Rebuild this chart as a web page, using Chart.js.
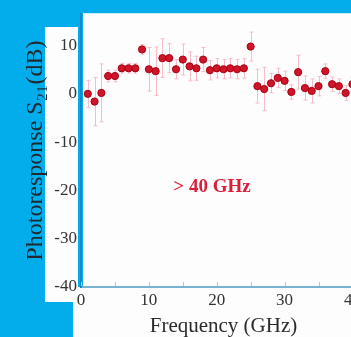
<!DOCTYPE html>
<html>
<head>
<meta charset="utf-8">
<script src="https://cdn.jsdelivr.net/npm/chart.js@4.4.1/dist/chart.umd.min.js"></script>
<style>
  html, body { margin: 0; padding: 0; overflow: hidden; background: #03adeb; }
  canvas { display: block; }
</style>
</head>
<body>
<canvas id="s21Chart" width="372" height="337"></canvas>
<script>
// measured photoresponse, one point per GHz
var freqGHz = [1, 2, 3, 4, 5, 6, 7, 8, 9, 10,
               11, 12, 13, 14, 15, 16, 17, 18, 19, 20,
               21, 22, 23, 24, 25, 26, 27, 28, 29, 30,
               31, 32, 33, 34, 35, 36, 37, 38, 39, 40];
var s21dB = [0, -1.6, 0.2, 3.7, 3.7, 5.3, 5.3, 5.3, 9.2, 5.1,
             4.7, 7.4, 7.4, 5.1, 7.1, 5.7, 5.3, 7.1, 4.9, 5.3,
             5.1, 5.3, 5.1, 5.3, 9.8, 1.6, 1.0, 2.2, 3.3, 2.7,
             0.4, 4.5, 1.2, 0.6, 1.6, 4.7, 2.0, 1.6, 0.2, 2.0];
// half length of the error bars (dB)
var s21Err = [2.8, 5, 6, 1.2, 1.2, 1, 1, 1, 1, 4.5,
              5, 4, 3, 2, 3.2, 3, 2.5, 2.5, 2, 2,
              2, 2, 2, 2, 3, 3.5, 4.5, 2, 2, 2,
              1.5, 3.5, 2.5, 2.5, 2, 1.5, 1.5, 1.5, 1.5, 1.5];

var xTickLabels = [0, 10, 20, 30, 40];
var yTickLabels = [-40, -30, -20, -10, 0, 10];
var noteText = '> 40 GHz';
var notePos = [19.3, -19.3];

var serif = "'Liberation Serif', 'DejaVu Serif', serif";

// white paper behind the axes (the blue shows through the gaps)
var paperPlugin = {
    id: 'paper',
    beforeDraw: function (chart) {
        var ctx = chart.ctx, ca = chart.chartArea;
        ctx.save();
        ctx.fillStyle = '#fdfdfd';
        ctx.fillRect(ca.left + 2, ca.top - 1, chart.width, ca.bottom - ca.top + 1);
        ctx.fillRect(45, 27, ca.left - 48, 275);
        ctx.fillRect(45, ca.bottom, chart.width, 15);
        ctx.fillRect(73, ca.bottom + 15, chart.width, chart.height);
        ctx.restore();
    }
};

// error bars, drawn under the points
var errorBarPlugin = {
    id: 'errorBars',
    beforeDatasetsDraw: function (chart) {
        var ctx = chart.ctx, xs = chart.scales.x, ys = chart.scales.y;
        ctx.save();
        ctx.strokeStyle = '#f6bcc8';
        ctx.lineWidth = 1;
        for (var i = 0; i < freqGHz.length; i++) {
            var x = Math.round(xs.getPixelForValue(freqGHz[i])) + 0.5;
            var top = ys.getPixelForValue(s21dB[i] + s21Err[i]);
            var bot = ys.getPixelForValue(s21dB[i] - s21Err[i]);
            ctx.beginPath();
            ctx.moveTo(x, top); ctx.lineTo(x, bot);
            ctx.moveTo(x - 2, top); ctx.lineTo(x + 2, top);
            ctx.moveTo(x - 2, bot); ctx.lineTo(x + 2, bot);
            ctx.stroke();
        }
        ctx.restore();
    }
};

// inward tick marks on the frequency axis and the red note
var extrasPlugin = {
    id: 'extras',
    afterDraw: function (chart) {
        var ctx = chart.ctx, xs = chart.scales.x, ys = chart.scales.y;
        ctx.save();
        ctx.strokeStyle = '#a9cadd';
        ctx.lineWidth = 1;
        xs.ticks.forEach(function (t) {
            var x = Math.round(xs.getPixelForValue(t.value)) + 0.5;
            ctx.beginPath();
            ctx.moveTo(x, ys.bottom - 1);
            ctx.lineTo(x, ys.bottom - 5);
            ctx.stroke();
        });
        ctx.fillStyle = '#dc1f38';
        ctx.font = 'bold 19px ' + serif;
        ctx.textAlign = 'center';
        ctx.textBaseline = 'middle';
        ctx.fillText(noteText, xs.getPixelForValue(notePos[0]), ys.getPixelForValue(notePos[1]));
        ctx.restore();
    }
};

var points = freqGHz.map(function (f, i) { return { x: f, y: s21dB[i] }; });

new Chart(document.getElementById('s21Chart'), {
    type: 'scatter',
    data: {
        datasets: [{
            data: points,
            backgroundColor: '#d0142a',
            borderColor: '#a8000f',
            borderWidth: 1,
            pointRadius: 3.6,
            showLine: false
        }]
    },
    plugins: [paperPlugin, errorBarPlugin, extrasPlugin],
    options: {
        responsive: false,
        animation: false,
        devicePixelRatio: 1,
        layout: { padding: { top: 8, right: 6, left: 0, bottom: 0 } },
        plugins: {
            legend: { display: false },
            tooltip: { enabled: false }
        },
        scales: {
            x: {
                type: 'linear',
                min: 0,
                max: 42,
                afterFit: function (s) { s.height = 50; },
                border: { color: '#79b3d3', width: 2 },
                grid: { drawOnChartArea: false, drawTicks: false },
                ticks: {
                    stepSize: 5,
                    includeBounds: false,
                    padding: 3,
                    maxRotation: 0,
                    autoSkip: false,
                    color: '#333',
                    font: { family: serif, size: 17 },
                    callback: function (v) { return xTickLabels.indexOf(v) >= 0 ? v : ''; }
                },
                title: {
                    display: true,
                    text: 'Frequency (GHz)',
                    color: '#2a2a2a',
                    font: { family: serif, size: 21, lineHeight: 1 },
                    padding: { top: 0, bottom: 0 }
                }
            },
            y: {
                min: -40,
                max: 16.5,
                afterFit: function (s) { s.width = 81; },
                border: { color: '#1e88c4', width: 2 },
                grid: { drawOnChartArea: false, drawTicks: false },
                ticks: {
                    stepSize: 10,
                    includeBounds: false,
                    padding: 4,
                    color: '#333',
                    font: { family: serif, size: 17 },
                    callback: function (v) { return yTickLabels.indexOf(v) >= 0 ? v : ''; }
                },
                title: {
                    display: true,
                    text: 'Photoresponse S\u2082\u2081(dB)',
                    color: '#1e2a30',
                    font: { family: serif, size: 24, lineHeight: 1 },
                    padding: { top: 24, bottom: 0 }
                }
            }
        }
    }
});
</script>
</body>
</html>
